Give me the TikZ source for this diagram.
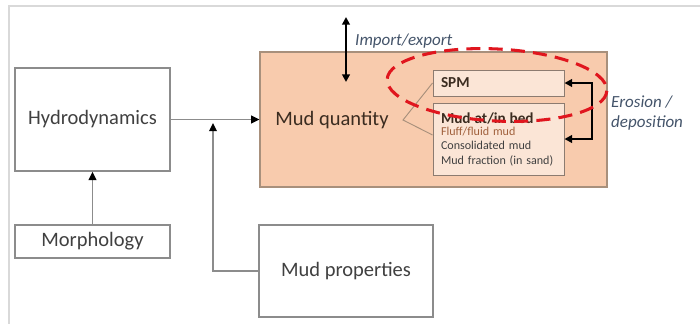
\documentclass[tikz,border=0pt]{standalone}
\usepackage{fontspec}
\setmainfont{Carlito}
\usetikzlibrary{arrows.meta,positioning,calc}
\definecolor{cFrame}{HTML}{D9D9D9}
\definecolor{cLine}{HTML}{8C8C8C}
\definecolor{cText}{HTML}{404040}
\definecolor{cMud}{HTML}{F8CBAD}
\definecolor{cMudLine}{HTML}{A8907C}
\definecolor{cBed}{HTML}{FBE5D6}
\definecolor{cBedLine}{HTML}{8C7B70}
\definecolor{cBrown}{HTML}{3B2C20}
\definecolor{cNote}{HTML}{44546A}
\definecolor{cFluff}{HTML}{A0603C}
\definecolor{cRing}{HTML}{E0161E}

\begin{document}
\begin{tikzpicture}[
  x=0.03cm, y=-0.03cm,
  big/.style={font=\fontsize{17.5}{21}\selectfont},
  blk/.style 2 args={draw=cLine, fill=white, line width=1.4pt, text=cText,
                     minimum width=#1*0.03cm, minimum height=#2*0.03cm,
                     inner sep=0pt, big},
  sub/.style={draw=cBedLine, fill=cBed, line width=.8pt, text=cBrown,
              align=left, text width=115*0.03cm, inner xsep=8*0.03cm,
              inner ysep=0pt},
  flow/.style={-{Triangle[length=7pt,width=6.5pt,color=black]}, line width=1.4pt,
               draw=cLine},
  swap/.style={{Triangle[length=6.5pt,width=6.5pt]}-{Triangle[length=6.5pt,width=6.5pt]},
               line width=1.7pt, draw=black},
  note/.style={font=\fontsize{14.5}{17.5}\selectfont\itshape, text=cNote,
               inner sep=0pt, align=left},
]
\useasboundingbox (0,0) rectangle (700,324);

% ---------------- frame ----------------
\draw[cFrame, line width=1.3pt] (700,6) -- (9,6) -- (9,324);

% ---------------- drivers ----------------
\node[blk={155}{103}] (hydro) at (92.5,119.5) {Hydrodynamics};
\node[blk={155}{33}] (morph) at (92.5,241.5) {Morphology};
\node[blk={174}{92}] (mudprop) at (346,271) {Mud properties};

% ---------------- mud quantity ----------------
\node[draw=cMudLine, fill=cMud, line width=1pt, minimum width=347*0.03cm,
      minimum height=135*0.03cm] (mudq) at (433.5,119.5) {};
\node[big, text=cBrown, inner sep=0pt] (mqlbl) at (332,120) {Mud quantity};

\node[sub, minimum height=26*0.03cm, font=\fontsize{13}{15}\selectfont\bfseries]
  (spm) at (498.5,83) {SPM};
\node[sub, minimum height=72*0.03cm] (bed) at (498.5,139)
  {{\fontsize{13}{15}\selectfont\bfseries Mud at/in bed}\\[-1pt]
   {\fontsize{10.3}{12.8}\selectfont\color{cFluff}Fluff/fluid mud}\\
   {\fontsize{10.3}{12.8}\selectfont\color{cText}Consolidated mud}\\
   {\fontsize{10.3}{12.8}\selectfont\color{cText}Mud fraction (in sand)}};

\coordinate (fork) at (403,120);
\draw[cMudLine, line width=.8pt] (spm.west) -- (fork) -- ([yshift=4*0.03cm]bed.west);

% ---------------- connectors ----------------
\coordinate (join) at (213,123);
\draw[flow] (hydro.east) -- (hydro.east -| mudq.west);
\draw[flow] (morph.north) -- (hydro.south);
\draw[flow] (mudprop.west) -| (join);

\coordinate (ietop) at (346,17);
\coordinate (iebot) at (346,82);
\draw[swap] (ietop) -- (iebot);
\node[note, anchor=base west] (ielbl) at (355,45) {Import/export};

\draw[swap] (spm.east) -- ++(28,0) |- (bed.east);
\node[note, anchor=west] (erolbl) at (611,113) {Erosion /\\deposition};

% ---------------- highlight ----------------
\draw[cRing, line width=2.6pt, dash pattern=on 12pt off 7pt, rotate around={-3:(497,85)}]
  (497,85) ellipse [x radius=110, y radius=36];

\end{tikzpicture}
\end{document}
